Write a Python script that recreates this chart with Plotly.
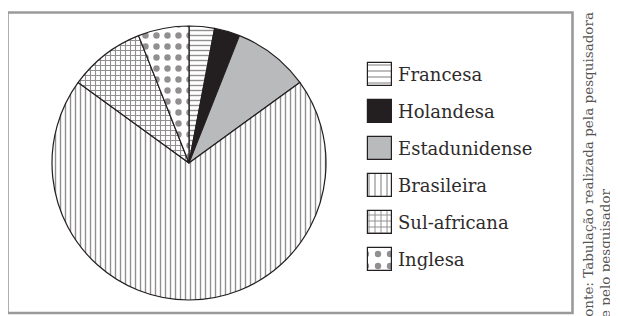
import plotly.graph_objects as go

# ---- data ----
labels = ["Francesa", "Holandesa", "Estadunidense", "Brasileira", "Sul-africana", "Inglesa"]
values = [3, 3, 9, 70, 9, 6]
source_lines = ["Fonte: Tabulação realizada pela pesquisadora", "e pelo pesquisador"]

# ---- styles ----
INK = "#231f20"
fill_colors = ["white", INK, "#b9babc", "white", "white", "white"]
shapes = ["-", "", "", "|", "+", "."]
p_sizes = [5, 8, 8, 5, 5, 11]
p_solid = [0.28, 0.3, 0.3, 0.28, 0.4, 0.27]
leg_sizes = [6, 8, 8, 6, 6, 12]
leg_solid = [0.2, 0.3, 0.3, 0.2, 0.3, 0.22]

# The page body has an 8px default margin: lay out in reference pixels, shifted.
OFF = 8
W, H = 618 - OFF, 316 - OFF


def px(x):
    return (x - OFF) / W


def py(y):
    return 1 - (y - OFF) / H


fig = go.Figure()

fig.add_trace(go.Pie(
    labels=labels, values=values, sort=False, direction="clockwise", rotation=0,
    textinfo="none", hoverinfo="label+value", showlegend=False,
    domain=dict(x=[px(52), px(326)], y=[py(300), py(26)]),
    marker=dict(
        colors=fill_colors,
        line=dict(color=INK, width=1.2),
        pattern=dict(shape=shapes, fgcolor=INK, bgcolor=fill_colors,
                     size=p_sizes, solidity=p_solid, fillmode="overlay"),
    ),
))

# custom legend swatches (bars on hidden axes in reference-pixel units)
centers = [74, 111.5, 148, 185, 222.5, 259]
sw_h, sw_w = 23, 24
for i, lab in enumerate(labels):
    fig.add_trace(go.Bar(
        x=[380], y=[sw_h], base=[centers[i] - sw_h / 2], width=[sw_w],
        xaxis="x2", yaxis="y2", showlegend=False, hoverinfo="skip",
        marker=dict(color=fill_colors[i], line=dict(color=INK, width=1.2),
                    pattern=dict(shape=shapes[i], fgcolor=INK, bgcolor=fill_colors[i],
                                 size=leg_sizes[i], solidity=leg_solid[i], fillmode="overlay")),
    ))
    fig.add_annotation(
        x=px(396), y=py(centers[i]), xref="paper", yref="paper",
        text=lab, showarrow=False, xanchor="left", yanchor="middle",
        font=dict(family="DejaVu Serif", size=18, color="#2e2b2c"),
    )

# source note, rotated, one annotation per line
note_x = [587.5, 605]
note_yc = [169, 253]
for j, line in enumerate(source_lines):
    fig.add_annotation(
        x=px(note_x[j]), y=py(note_yc[j]), xref="paper", yref="paper",
        text=line, showarrow=False, textangle=-90,
        xanchor="center", yanchor="middle",
        font=dict(family="DejaVu Serif", size=13.5, color="#555555"),
    )

# frame
fig.add_shape(type="rect", xref="paper", yref="paper",
              x0=px(7.5), x1=px(572.5), y0=py(313), y1=py(12.5),
              line=dict(color="#9a9a9a", width=2.6), fillcolor="rgba(0,0,0,0)")

fig.update_layout(
    width=W, height=H, margin=dict(l=0, r=0, t=0, b=0),
    paper_bgcolor="white", plot_bgcolor="rgba(0,0,0,0)",
    xaxis=dict(visible=False), yaxis=dict(visible=False),
    xaxis2=dict(domain=[px(360), px(400)], range=[360, 400], visible=False,
                fixedrange=True, anchor="y2"),
    yaxis2=dict(domain=[0, 1], range=[316, OFF], visible=False, fixedrange=True,
                anchor="x2"),
    bargap=0,
)

fig.write_html("out.html")
